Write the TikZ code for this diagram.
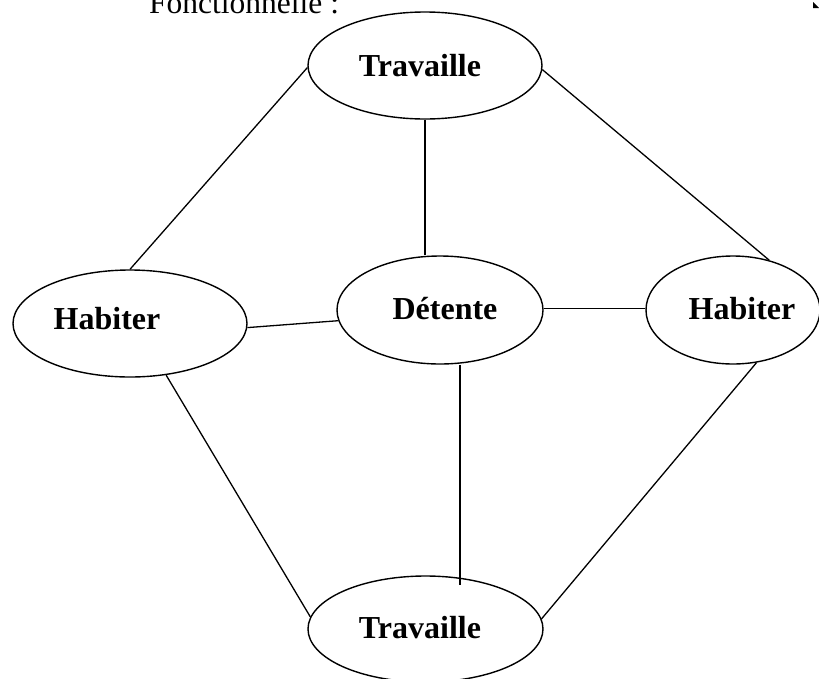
\documentclass[tikz,border=0pt]{standalone}
\usepackage{fontspec}
\setmainfont{Liberation Serif}
\usetikzlibrary{shapes.geometric}

\tikzset{
  bubble/.style={draw, ellipse, line width=1.4pt, inner sep=0pt},
  lbl/.style={anchor=base, inner sep=0pt, font=\fontsize{32}{38}\selectfont\bfseries},
  link/.style={line width=1.3pt}
}

\begin{document}
\begin{tikzpicture}[x=1pt, y=-1pt]
  \useasboundingbox (0,0) rectangle (819,678);
  \fill[white] (0,0) rectangle (819,678);
  \clip (0,0) rectangle (819,678);

  % heading, partly cut by the page top
  \node[anchor=base west, inner sep=0pt, font=\fontsize{31.5}{38}\selectfont] (head) at (149,13) {Fonctionnelle :};
  \fill (813,2) -- (813,8) -- (819,8) -- cycle;

  % the five zones
  \node[bubble, minimum width=234pt, minimum height=107pt] (T1)  at (425,65.5) {};
  \node[bubble, minimum width=234pt, minimum height=107pt] (Hb1) at (130,323.5) {};
  \node[bubble, minimum width=206pt, minimum height=108pt] (Det) at (440,310) {};
  \node[bubble, minimum width=174pt, minimum height=108pt] (Hb2) at (733,310) {};
  \node[bubble, minimum width=235pt, minimum height=106pt] (T2)  at (425.5,629) {};

  \node[lbl] (T1txt)  at (420,76)  {Travaille};
  \node[lbl] (Hb1txt) at (107,329) {Habiter};
  \node[lbl] (Dettxt) at (445,319) {Détente};
  \node[lbl] (Hb2txt) at (742,319) {Habiter};
  \node[lbl] (T2txt)  at (420,638) {Travaille};

  % links between zones
  \coordinate (dS) at ([xshift=20pt]Det.south);
  \coordinate (tN) at ([yshift=-10pt]T2.north);

  \draw[link] (T1.181) -- (Hb1.north);
  \draw[link] (T1.south) -- (T1.south |- Det.north);
  \draw[link] (T1.358) -- (Hb2.54);
  \draw[link] (Hb1.358) -- (Det.186.7);
  \draw[link] (Det.1) -- (Det.1 -| Hb2.west);
  \draw[link] (Hb1.305) -- (T2.174);
  \draw[link] (dS) -- (dS |- tN);
  \draw[link] (Hb2.294.8) -- (T2.5.4);
\end{tikzpicture}
\end{document}
